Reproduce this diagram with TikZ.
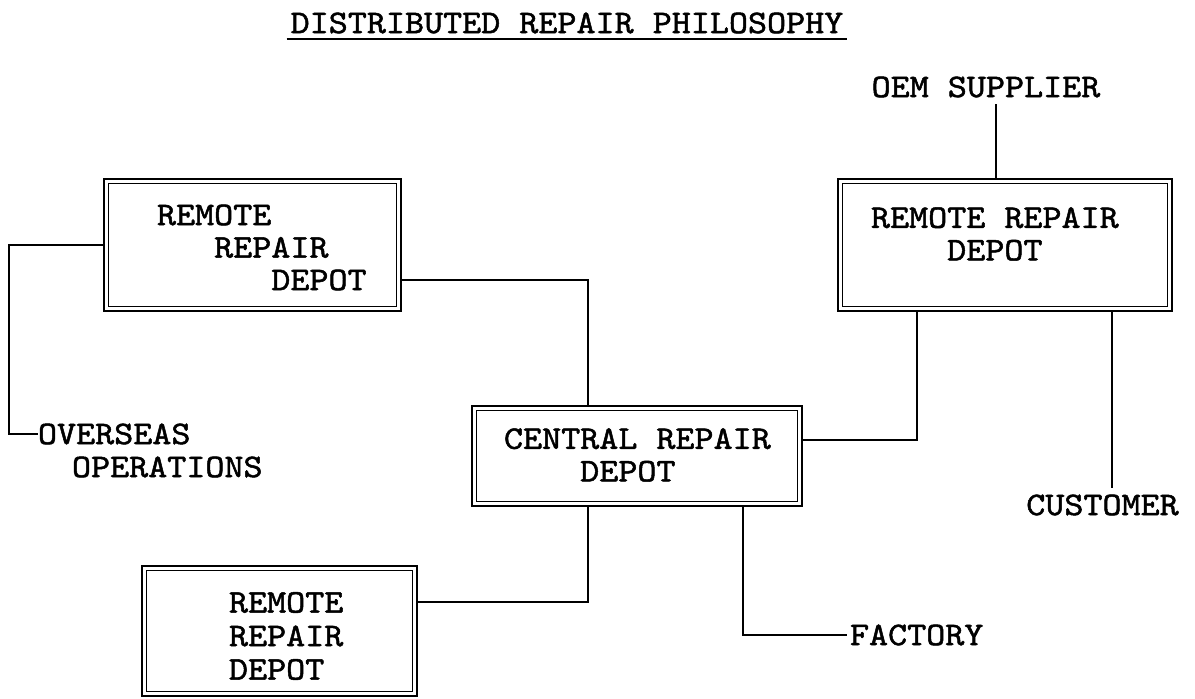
\documentclass[tikz,border=0pt]{standalone}
\usepackage{fontspec}
\newfontfamily\mono[FakeBold=1.5,FakeStretch=1.1]{lmmono10-regular.otf}
\tikzset{
  lbl/.style={font=\mono\fontsize{33}{#1}\selectfont, inner sep=0pt, outer sep=0pt, align=left},
  lbl/.default=32,
  box/.style={draw, line width=1.7pt, double, double distance=3pt, inner sep=0pt, outer sep=3.2pt},
  wire/.style={line width=2pt},
}
\begin{document}
\begin{tikzpicture}[x=1pt,y=-1pt]
\fill[white] (0,0) rectangle (1195,699);
\useasboundingbox (0,0) rectangle (1195,699);

% title
\node[lbl] (title) at (567,23) {DISTRIBUTED REPAIR PHILOSOPHY};
\draw[line width=2pt] ([xshift=-4pt,yshift=-6pt]title.south west) -- ([xshift=4pt,yshift=-6pt]title.south east);

% boxes
\node[box, minimum width=292.6pt, minimum height=127.6pt] (A) at (252.5,245) {};
\node[box, minimum width=329.6pt, minimum height=127.6pt] (B) at (1005,245) {};
\node[box, minimum width=325.6pt, minimum height=95.6pt] (C) at (637,456) {};
\node[box, minimum width=270.6pt, minimum height=125.6pt] (D) at (279.5,631) {};

% box texts
\node[lbl=32.5, anchor=west] (ta) at (157,247.5) {REMOTE\\\phantom{REM}REPAIR\\\phantom{REMOTE}DEPOT};
\node[lbl=32.5, anchor=west] (tb) at (871,234) {REMOTE REPAIR\\\phantom{REMO}DEPOT};
\node[lbl=32.5, anchor=west] (tc) at (504,455) {CENTRAL REPAIR\\\phantom{CENT}DEPOT};
\node[lbl=33.5, anchor=west] (td) at (229,636) {REMOTE\\REPAIR\\DEPOT};

% outside labels
\node[lbl, anchor=west] (ov) at (38,434) {OVERSEAS};
\node[lbl, anchor=west] (op) at (72,467) {OPERATIONS};
\node[lbl] (oem) at (986,87) {OEM SUPPLIER};
\node[lbl] (cust) at (1102.5,505) {CUSTOMER};
\node[lbl, anchor=west] (fac) at (850,635) {FACTORY};

% connectors
\coordinate (lk) at (9,434);
\draw[wire] (A.west) -| (lk) -- (ov.west);

\coordinate (a2) at ([yshift=-35pt]A.east);
\coordinate (c1) at ([xshift=-49pt]C.north);
\draw[wire] (a2) -| (c1);

\coordinate (c2) at ([yshift=16pt]C.east);
\coordinate (b1) at ([xshift=-88pt]B.south);
\draw[wire] (b1) |- (c2);

\coordinate (b2) at ([xshift=107pt]B.south);
\draw[wire, shorten >=7pt] (b2) -- (b2 |- cust.north);

\coordinate (b0) at ([xshift=-9pt]B.north);
\draw[wire, shorten <=7pt] (b0 |- oem.south) -- (b0);

\coordinate (c3) at ([xshift=-49pt]C.south);
\coordinate (d1) at ([yshift=29pt]D.east);
\draw[wire] (c3) |- (d1);

\coordinate (c4) at ([xshift=106pt]C.south);
\draw[wire, shorten >=3pt] (c4) |- (fac.west);
\end{tikzpicture}
\end{document}
